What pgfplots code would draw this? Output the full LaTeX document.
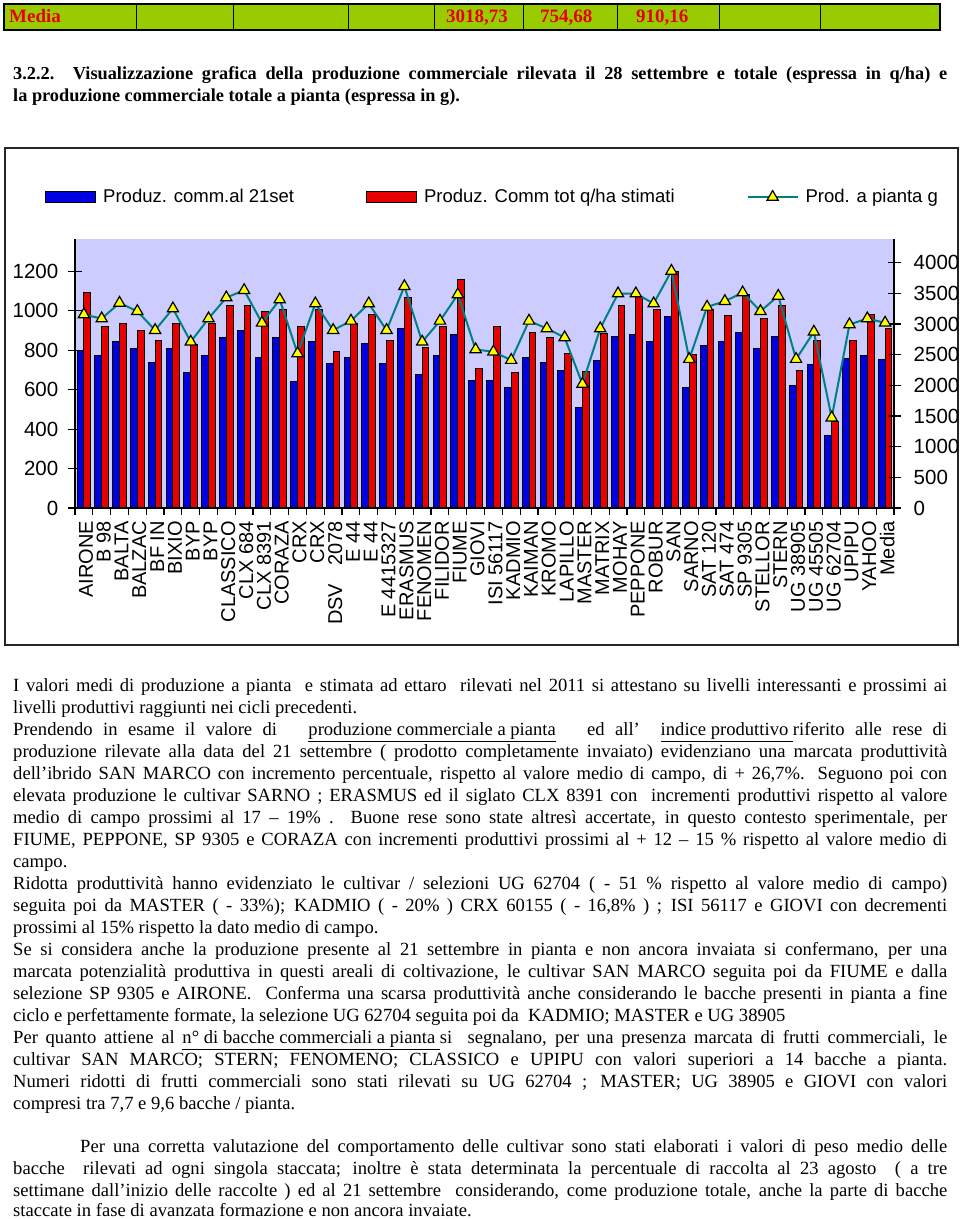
\documentclass[border=0pt]{standalone}
\usepackage{fontspec}
\setmainfont{Liberation Serif}
\newfontfamily\arial{Liberation Sans}
\usepackage{pgfplots}
\pgfplotsset{compat=1.18}
\usepackage{pgfplotstable}
\definecolor{lav}{RGB}{204,204,255}
\definecolor{barblue}{RGB}{0,0,225}
\definecolor{barred}{RGB}{230,0,0}
\definecolor{tealline}{RGB}{0,128,128}
\definecolor{yel}{RGB}{255,255,0}
\definecolor{tabgreen}{RGB}{153,204,0}
\definecolor{tabred}{RGB}{230,0,0}

\pgfplotstableread{
x comm tot pianta
0 798 1094 3154
1 774 918 3089
2 842 938 3343
3 811 899 3208
4 737 850 2899
5 811 938 3252
6 688 828 2709
7 774 938 3089
8 862 1026 3431
9 899 1026 3550
10 764 997 3018
11 862 1006 3398
12 639 918 2520
13 842 1006 3333
14 735 794 2899
15 764 938 3051
16 833 980 3333
17 735 850 2899
18 909 1065 3615
19 676 815 2709
20 774 921 3051
21 882 1161 3480
22 647 705 2585
23 647 918 2547
24 609 686 2411
25 764 891 3051
26 737 862 2927
27 696 783 2780
28 512 693 2021
29 747 884 2927
30 870 1026 3496
31 882 1073 3496
32 842 1006 3333
33 969 1200 3864
34 609 778 2427
35 822 1006 3279
36 842 977 3371
37 891 1082 3512
38 811 959 3208
39 870 1026 3457
40 620 696 2427
41 727 849 2872
42 368 439 1473
43 756 850 2992
44 774 980 3089
45 754.68 910.16 3018.73
}\data

\pgfplotsset{
  bluelegend/.style={legend image code/.code={\draw[fill=barblue,draw=black,line width=1pt] (0pt,-5.5pt) rectangle (50pt,5.5pt);}},
  redlegend/.style={legend image code/.code={\draw[fill=barred,draw=black,line width=1pt] (0pt,-5.5pt) rectangle (50pt,5.5pt);}},
  trilegend/.style={legend image code/.code={\draw[tealline,line width=2pt] (0pt,0pt) -- (50pt,0pt); \draw[fill=yel,draw=black,line width=1.2pt] plot[mark=triangle*, mark size=6.5pt, only marks] coordinates {(25pt,0pt)};}},
}

\newcommand\bodyfont{\fontsize{18.6}{22}\selectfont}
\newcommand\JL[3]{\node[anchor=base west,inner sep=0pt] at (#1,#2) {\bodyfont\makebox[\dimexpr947pt-#1pt\relax][s]{#3}};}
\newcommand\LL[3]{\node[anchor=base west,inner sep=0pt] at (#1,#2) {\bodyfont #3};}

\begin{document}
\begin{tikzpicture}[x=1pt,y=1pt]
\useasboundingbox (0,0) rectangle (960,1219);
\fill[white] (0,0) rectangle (960,1219);

% top table row
\fill[tabgreen] (4,1189) rectangle (940,1215);
\draw[line width=1.2pt] (4,1189) rectangle (940,1215);
\foreach \xx in {136,233,348,434,523,617,719,820} \draw[line width=0.8pt] (\xx,1189) -- (\xx,1215);
\begin{scope}[every node/.style={anchor=base west,inner sep=0pt,text=tabred,font=\bfseries\fontsize{19}{22}\selectfont}]
\node at (9,1196) {Media};
\node at (446,1196) {3018,73};
\node at (540,1196) {754,68};
\node at (636,1196) {910,16};
\end{scope}

% heading
\node[anchor=base west,inner sep=0pt] at (13,1139) {\bfseries\fontsize{18.3}{22}\selectfont\makebox[934pt][s]{3.2.2. Visualizzazione grafica della produzione commerciale rilevata il 28 settembre e totale (espressa in q/ha) e}};
\node[anchor=base west,inner sep=0pt] at (13,1117) {\bfseries\fontsize{18.3}{22}\selectfont la produzione commerciale totale a pianta (espressa in g).};

% chart frame
\draw[line width=2pt,black!85] (5,574) rectangle (958,1071);

\begin{axis}[
  at={(75pt,711pt)}, anchor=south west,
  scale only axis, width=819pt, height=269pt,
  xmin=-0.5, xmax=45.5, ymin=0, ymax=1364,
  axis x line=bottom, axis y line=left,
  axis line style={-, line width=1.6pt, black},
  axis background/.style={fill=lav},
  ybar, bar width=6.8pt,
  xtick={-0.5,0.5,...,45.5},
  x tick label as interval,
  xticklabels={AIRONE,B 98,{BALTA\hspace{8pt}},{BALZAC\hspace{15pt}},BF IN,BIXIO,BYP,BYP,CLASSICO,CLX 684,CLX 8391,CORAZA,CRX,CRX,{DSV\hspace{18pt}2078},E 44,E 44,E 4415327,ERASMUS,FENOMEN,FILIDOR,FIUME,GIOVI,ISI 56117,KADMIO,KAIMAN,KROMO,LAPILLO,MASTER,MATRIX,MOHAY,PEPPONE,ROBUR,{SAN\hspace{17pt}},SARNO,SAT 120,SAT 474,SP 9305,STELLOR,STERN,UG 38905,UG 45505,UG 62704,UPIPU,YAHOO,Media},
  xticklabel style={rotate=90, anchor=east, inner sep=0pt, yshift=-2pt, font=\arial\fontsize{20}{24}\selectfont},
  xtick align=outside,
  xtick style={/pgfplots/major tick length=7pt},
  ytick={0,200,...,1200},
  ytick align=center,
  major tick length=13pt,
  tick style={black, line width=1.2pt},
  yticklabel style={anchor=east, inner sep=0pt, xshift=-10pt, font=\arial\fontsize{20.5}{24}\selectfont},
  /pgf/number format/assume math mode=true,
  /pgf/number format/1000 sep={},
  legend columns=3,
  legend style={at={(-0.0366,1.156)}, anchor=west, draw=none, fill=none, inner sep=0pt,
    font=\arial\fontsize{18.5}{22}\selectfont,
    nodes={inner sep=0pt},
    /tikz/every odd column/.append style={column sep=7pt},
    /tikz/every even column/.append style={column sep=72pt}},
  legend cell align=left,
]
\addplot[fill=barblue, draw=black, line width=1pt, bar shift=-3.4pt, bluelegend]
  table[x=x,y=comm]{\data};
\addlegendentry{Produz. comm.al 21set}
\addplot[fill=barred, draw=black, line width=1pt, bar shift=3.4pt, redlegend]
  table[x=x,y=tot]{\data};
\addlegendentry{Produz. Comm tot q/ha stimati}
\addlegendimage{trilegend}
\addlegendentry{Prod. a pianta g}
\end{axis}

\begin{axis}[
  at={(75pt,711pt)}, anchor=south west,
  scale only axis, width=819pt, height=269pt,
  xmin=-0.5, xmax=45.5, ymin=0, ymax=4386,
  axis x line=none, axis y line=right,
  axis line style={-, line width=1.6pt, black},
  ytick={0,500,...,4000},
  ytick align=center,
  major tick length=13pt,
  tick style={black, line width=1.2pt},
  yticklabel style={anchor=west, inner sep=0pt, xshift=13pt, font=\arial\fontsize{20.5}{24}\selectfont},
  /pgf/number format/assume math mode=true,
  /pgf/number format/1000 sep={},
  scaled y ticks=false,
  clip=false,
]
\addplot[tealline, line width=2pt, mark=triangle*, mark size=6.5pt, mark options={fill=yel, draw=black, line width=1.2pt, solid}]
  table[x=x,y=pianta]{\data};
\end{axis}

% body text
\LL{13}{527}{\makebox[934pt][s]{I valori medi di produzione a pianta\ \ e stimata ad ettaro\ \ rilevati nel 2011 si attestano su livelli interessanti e prossimi ai}}
\LL{13}{505}{livelli produttivi raggiunti nei cicli precedenti.}
\JL{13}{483}{Prendendo in esame il valore di\ \ \ \underline{produzione commerciale a pianta}\ \ \ ed all’\ \ \underline{indice produttivo }riferito alle rese di}
\JL{13}{461}{produzione rilevate alla data del 21 settembre ( prodotto completamente invaiato) evidenziano una marcata produttività}
\JL{13}{439}{dell’ibrido SAN MARCO con incremento percentuale, rispetto al valore medio di campo, di + 26,7\%. Seguono poi con}
\JL{13}{417}{elevata produzione le cultivar SARNO ; ERASMUS ed il siglato CLX 8391 con\ \ incrementi produttivi rispetto al valore}
\JL{13}{395}{medio di campo prossimi al 17 – 19\% . Buone rese sono state altresì accertate, in questo contesto sperimentale, per}
\JL{13}{373}{FIUME, PEPPONE, SP 9305 e CORAZA con incrementi produttivi prossimi al + 12 – 15 \% rispetto al valore medio di}
\LL{13}{351}{campo.}
\JL{13}{329}{Ridotta produttività hanno evidenziato le cultivar / selezioni UG 62704 ( - 51 \% rispetto al valore medio di campo)}
\JL{13}{307}{seguita poi da MASTER ( - 33\%); KADMIO ( - 20\% ) CRX 60155 ( - 16,8\% ) ; ISI 56117 e GIOVI con decrementi}
\LL{13}{285}{prossimi al 15\% rispetto la dato medio di campo.}
\JL{13}{263}{Se si considera anche la produzione presente al 21 settembre in pianta e non ancora invaiata si confermano, per una}
\JL{13}{241}{marcata potenzialità produttiva in questi areali di coltivazione, le cultivar SAN MARCO seguita poi da FIUME e dalla}
\JL{13}{219}{selezione SP 9305 e AIRONE.\ \ Conferma una scarsa produttività anche considerando le bacche presenti in pianta a fine}
\LL{13}{197}{ciclo e perfettamente formate, la selezione UG 62704 seguita poi da\ \ KADMIO; MASTER e UG 38905}
\JL{13}{175}{Per quanto attiene al \underline{n° di bacche commerciali a pianta }si\ \ segnalano, per una presenza marcata di frutti commerciali, le}
\JL{13}{153}{cultivar SAN MARCO; STERN; FENOMENO; CLASSICO e UPIPU con valori superiori a 14 bacche a pianta.}
\JL{13}{131}{Numeri ridotti di frutti commerciali sono stati rilevati su UG 62704 ; MASTER; UG 38905 e GIOVI con valori}
\LL{13}{109}{compresi tra 7,7 e 9,6 bacche / pianta.}
\JL{80}{66}{Per una corretta valutazione del comportamento delle cultivar sono stati elaborati i valori di peso medio delle}
\JL{13}{44}{bacche\ \ rilevati ad ogni singola staccata; inoltre è stata determinata la percentuale di raccolta al 23 agosto\ \ ( a tre}
\JL{13}{22}{settimane dall’inizio delle raccolte ) ed al 21 settembre\ \ considerando, come produzione totale, anche la parte di bacche}
\LL{13}{2}{staccate in fase di avanzata formazione e non ancora invaiate.}
\end{tikzpicture}
\end{document}
